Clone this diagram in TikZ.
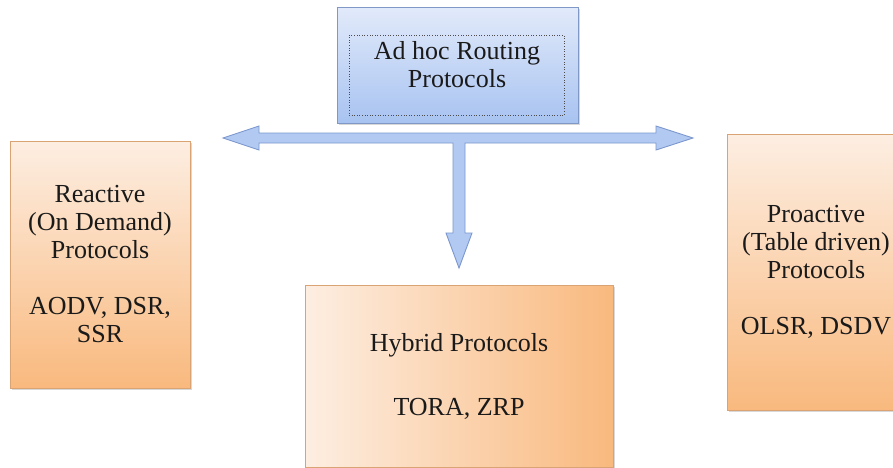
\documentclass[tikz,border=0pt]{standalone}
\usepackage{fontspec}
\newfontfamily\timesfont{LiberationSerif-Regular.ttf}
\usetikzlibrary{calc,shadows}
\definecolor{bluetop}{HTML}{E2EAFA}
\definecolor{bluebot}{HTML}{A8C3F1}
\definecolor{blueedge}{HTML}{7F98C6}
\definecolor{arrowfill}{HTML}{B2CAF2}
\definecolor{arrowedge}{HTML}{7C97CE}
\definecolor{orlight}{HTML}{FDEEE2}
\definecolor{ordark}{HTML}{F9B97E}
\definecolor{oredge}{HTML}{D9A374}
\definecolor{txt}{HTML}{1A1A1A}
\begin{document}
\begin{tikzpicture}[x=1pt,y=-1pt,
  every node/.style={font=\timesfont\fontsize{26pt}{28pt}\selectfont, text=txt, align=center, inner sep=0pt},
  boxshadow/.style={drop shadow={shadow xshift=2pt, shadow yshift=-2pt, opacity=0.25, fill=black!60}},
  rootbox/.style={rectangle, draw=blueedge, line width=0.8pt, top color=bluetop, bottom color=bluebot, boxshadow},
  orbox/.style={rectangle, draw=oredge, line width=0.8pt, top color=orlight, bottom color=ordark, boxshadow},
  orboxh/.style={rectangle, draw=oredge, line width=0.8pt, left color=orlight, right color=ordark, boxshadow},
  fatarrow/.style={fill=arrowfill, draw=arrowedge, line width=0.9pt, line join=miter}
]
\useasboundingbox[fill=white] (0,0) rectangle (893,467);

% root box
\node[rootbox, minimum width=241pt, minimum height=116pt] (root) at (457.5,65) {};
\node[draw=black!70, dotted, line width=0.6pt, minimum width=215pt, minimum height=80pt] (inner) at (456.5,75) {};
\node (roottext) at (457,65) {Ad hoc Routing\\Protocols};

% category boxes
\node[orbox, minimum width=180pt, minimum height=247pt] (reactive) at (100,264.5)
  {Reactive\\(On Demand)\\Protocols\\[28pt]AODV, DSR,\\SSR};
\node[orbox, minimum width=178pt, minimum height=276pt] (proactive) at (816,272)
  {Proactive\\(Table driven)\\Protocols\\[28pt]OLSR, DSDV};
\node[orboxh, minimum width=308pt, minimum height=182pt] (hybrid) at (459,376)
  {Hybrid Protocols\\[36pt]TORA, ZRP};

% arrows
\coordinate (ltip) at (223,138);
\coordinate (rtip) at (693,138);
\coordinate (hub)  at (459,138);
\coordinate (dtip) at (459,268);
\draw[fatarrow] (ltip) -- ($(ltip)+(36,-12)$) -- ($(ltip)+(36,-5)$)
  -- ($(rtip)+(-37,-5)$) -- ($(rtip)+(-37,-12)$) -- (rtip)
  -- ($(rtip)+(-37,12)$) -- ($(rtip)+(-37,5)$)
  -- ($(hub)+(6,5)$) -- ($(dtip)+(6,-35)$) -- ($(dtip)+(13,-35)$) -- (dtip)
  -- ($(dtip)+(-13,-35)$) -- ($(dtip)+(-6,-35)$) -- ($(hub)+(-6,5)$)
  -- ($(ltip)+(36,5)$) -- ($(ltip)+(36,12)$) -- cycle;
\end{tikzpicture}
\end{document}
